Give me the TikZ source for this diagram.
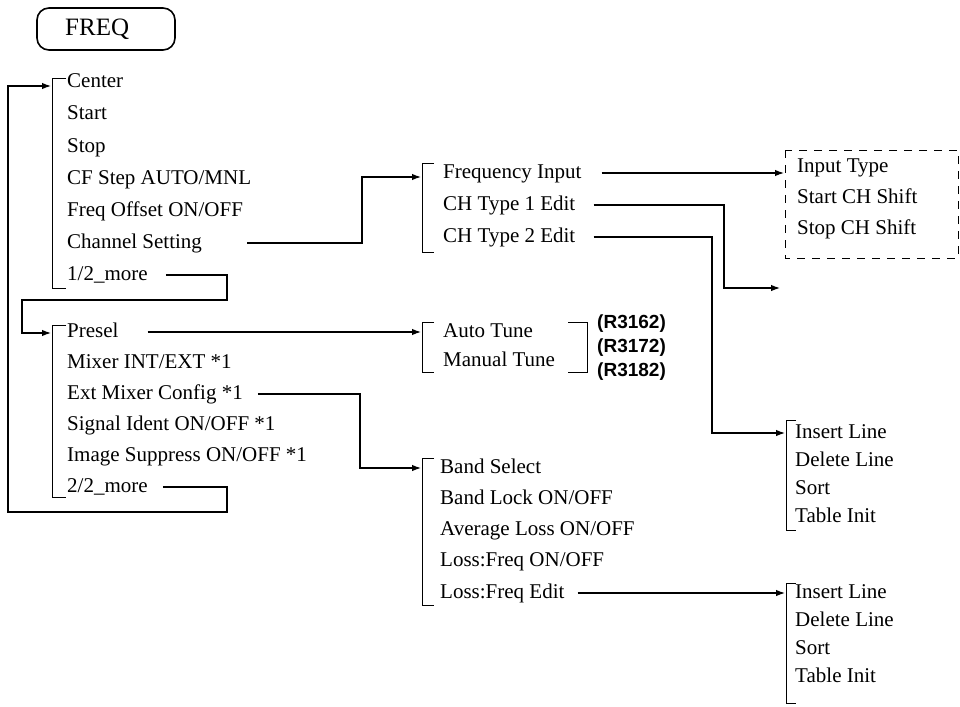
\documentclass[tikz,border=0pt]{standalone}
\usepackage{fontspec}
\setmainfont{Liberation Serif}
\newfontfamily\labfont{Liberation Sans}
\usetikzlibrary{arrows.meta,calc}
\begin{document}
\begin{tikzpicture}[x=1pt,y=-1pt,
  item/.style={anchor=west,inner sep=0pt,font=\fontsize{21}{21}\selectfont,text height=13pt,text depth=3pt},
  lab/.style={anchor=west,inner sep=0pt,font=\labfont\bfseries\fontsize{19}{19}\selectfont,text height=13pt,text depth=3pt},
  brk/.style={line width=0.8pt},
  conn/.style={line width=1.2pt,-{Latex[length=9pt,width=6.5pt]}},
  dashbox/.style={line width=1pt,dash pattern=on 8pt off 7pt}
]
\fill[white] (0,0) rectangle (960,706);
\useasboundingbox (0,0) rectangle (960,706);

% FREQ key
\node[draw,line width=1.6pt,rounded corners=12pt,minimum width=138pt,minimum height=42pt,inner sep=0pt] (freqkey) at (106,29) {};
\node[anchor=west,inner sep=0pt,font=\fontsize{25}{25}\selectfont] (freq) at (65,29) {FREQ};

% left column, page 1
\node[item] (cen) at (67,83) {Center};
\node[item] (sta) at (67,115) {Start};
\node[item] (sto) at (67,147) {Stop};
\node[item] (cfs) at (67,179) {CF Step AUTO/MNL};
\node[item] (fof) at (67,211) {Freq Offset ON/OFF};
\node[item] (chs) at (67,243) {Channel Setting};
\node[item] (m1) at (67,275) {1/2\_more};

% left column, page 2
\node[item] (pre) at (67,332) {Presel};
\node[item] (mix) at (67,363) {Mixer INT/EXT *1};
\node[item] (ext) at (67,394) {Ext Mixer Config *1};
\node[item] (sig) at (67,425) {Signal Ident ON/OFF *1};
\node[item] (img) at (67,456) {Image Suppress ON/OFF *1};
\node[item] (m2) at (67,487) {2/2\_more};

% channel setting submenu
\node[item] (fin) at (443,173) {Frequency Input};
\node[item] (ct1) at (443,205) {CH Type 1 Edit};
\node[item] (ct2) at (443,237) {CH Type 2 Edit};

% frequency input submenu
\node[item] (ity) at (797,167) {Input Type};
\node[item] (scs) at (797,198) {Start CH Shift};
\node[item] (pcs) at (797,229) {Stop CH Shift};

% CH type 2 edit submenu
\node[item] (il1) at (795,433) {Insert Line};
\node[item] (dl1) at (795,461) {Delete Line};
\node[item] (so1) at (795,489) {Sort};
\node[item] (ti1) at (795,517) {Table Init};

% presel submenu
\node[item] (aut) at (443,332) {Auto Tune};
\node[item] (man) at (443,361) {Manual Tune};
\node[lab] (r1) at (597,323) {(R3162)};
\node[lab] (r2) at (597,347) {(R3172)};
\node[lab] (r3) at (597,371) {(R3182)};

% ext mixer config submenu
\node[item] (bs) at (440,468) {Band Select};
\node[item] (bl) at (440,499) {Band Lock ON/OFF};
\node[item] (al) at (440,530) {Average Loss ON/OFF};
\node[item] (lf) at (440,561) {Loss:Freq ON/OFF};
\node[item] (lfe) at (440,593) {Loss:Freq Edit};

% loss freq edit submenu
\node[item] (il2) at (795,593) {Insert Line};
\node[item] (dl2) at (795,621) {Delete Line};
\node[item] (so2) at (795,649) {Sort};
\node[item] (ti2) at (795,677) {Table Init};

% brackets
\draw[brk] (66,78) -- (52,78) -- (52,288) -- (66,288);
\draw[brk] (66,325) -- (52,325) -- (52,497) -- (66,497);
\draw[brk] (434,163) -- (422,163) -- (422,252) -- (434,252);
\draw[brk] (796,420) -- (786,420) -- (786,530) -- (796,530);
\draw[brk] (434,322) -- (422,322) -- (422,372) -- (434,372);
\draw[brk] (568,322) -- (587,322) -- (587,372) -- (568,372);
\draw[brk] (434,458) -- (422,458) -- (422,605) -- (434,605);
\draw[brk] (796,583) -- (786,583) -- (786,703) -- (796,703);
\draw[dashbox] (785,150) rectangle (958,258);

% entry points
\coordinate (intop) at (51,86);
\coordinate (inpre) at (51,333);
\coordinate (infin) at (421,177);
\coordinate (indash) at (784,173);
\coordinate (free1) at (780,288);
\coordinate (inil1) at (785,433);
\coordinate (inaut) at (421,332);
\coordinate (inbs) at (421,468);
\coordinate (inil2) at (785,593);

% connectors
\draw[conn] ([xshift=18pt]m1.east) -| (227,300) -| (22,333) -- (inpre);
\draw[conn] ([xshift=15pt]m2.east) -| (227,512) -| (8,86) -- (intop);
\draw[conn] ([xshift=45pt]chs.east) -| (362,177) -- (infin);
\draw[conn] ([xshift=20pt]fin.east) -- (fin.east -| indash);
\draw[conn] ([xshift=18pt]ct1.east) -| (724,288) -- (free1);
\draw[conn] ([xshift=18pt]ct2.east) -| (712,433) -- (inil1);
\draw[conn] ([xshift=29pt]pre.east) -- (inaut);
\draw[conn] ([xshift=15pt]ext.east) -| (360,468) -- (inbs);
\draw[conn] ([xshift=13pt]lfe.east) -- (inil2);
\end{tikzpicture}
\end{document}
